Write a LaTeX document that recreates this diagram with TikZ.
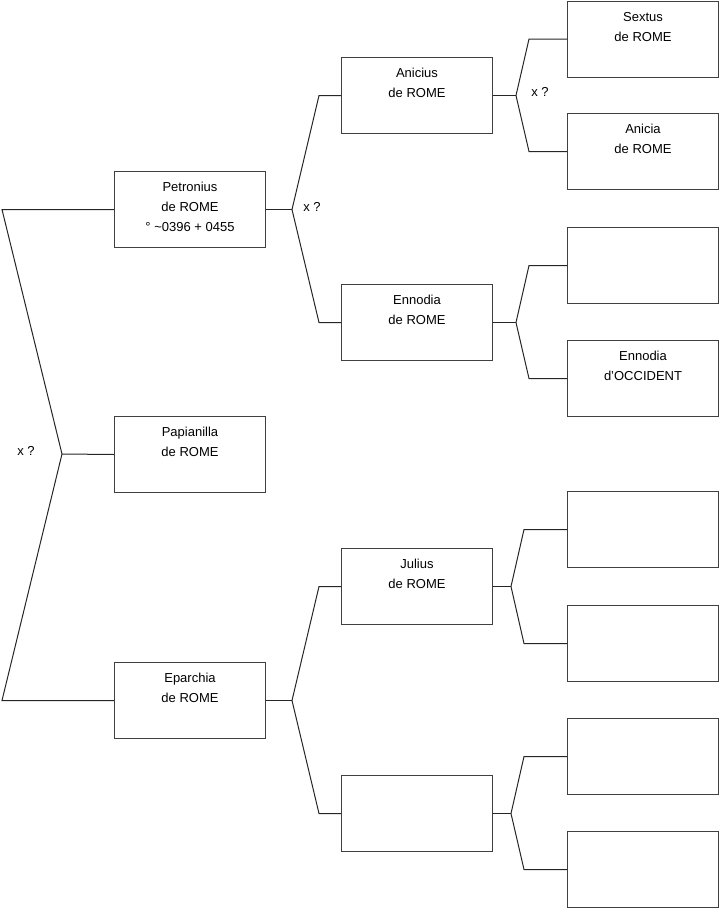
\documentclass[tikz,border=0pt]{standalone}
\usepackage{fontspec}
\setmainfont{Liberation Sans}
\usetikzlibrary{positioning}
\newcommand{\who}[1]{\parbox[t][76pt][t]{151pt}{\centering\vspace*{11pt}#1}}
\tikzset{
  person/.style={draw=black!75,line width=1pt,inner sep=0pt,anchor=north west,
                 minimum width=151pt,minimum height=76pt},
  link/.style={draw=black!85,line width=1pt}
}
\begin{document}
\begin{tikzpicture}[x=1pt,y=-1pt,every node/.style={font=\fontsize{13}{20}\selectfont}]
  \useasboundingbox (0,0) rectangle (719,908);
  %% Generation 1
  \node[person] (pet) at (114,171) {\who{Petronius\\de ROME\\° \textasciitilde0396 + 0455}};
  \node[person] (pap) at (114,416) {\who{Papianilla\\de ROME}};
  \node[person] (epa) at (114,662) {\who{Eparchia\\de ROME}};
  %% Generation 2
  \node[person] (ani) at (341,57)  {\who{Anicius\\de ROME}};
  \node[person] (enn) at (341,284) {\who{Ennodia\\de ROME}};
  \node[person] (jul) at (341,548) {\who{Julius\\de ROME}};
  \node[person] (gtw) at (341,775) {};
  %% Generation 3
  \foreach \n/\y/\t in {
      sex/0.5/{Sextus\\de ROME},
      anc/113/{Anicia\\de ROME},
      ga3/227/{},
      occ/340/{Ennodia\\d'OCCIDENT},
      ga5/491/{},
      ga6/605/{},
      ga7/718/{},
      ga8/831/{}}{
    \node[person] (\n) at (567,\y) {\who{\t}};
  }
  %% Forks
  \coordinate (j0) at (62,454);
  \draw[link] (pet.west) -- ([xshift=-112pt]pet.west) -- (j0)
    -- ([xshift=-112pt]epa.west) -- (epa.west);
  \draw[link] (j0) -- (pap.west);
  \node (x0) at (26,451) {x ?};
  \coordinate[right=26pt of pet.east] (j1);
  \draw[link] (pet.east) -- (j1);
  \draw[link] (ani.west) -- ([xshift=-22pt]ani.west) -- (j1)
    -- ([xshift=-22pt]enn.west) -- (enn.west);
  \node (x1) at (312,207) {x ?};
  \coordinate[right=26pt of epa.east] (j2);
  \draw[link] (epa.east) -- (j2);
  \draw[link] (jul.west) -- ([xshift=-22pt]jul.west) -- (j2)
    -- ([xshift=-22pt]gtw.west) -- (gtw.west);
  \foreach \p/\a/\b/\d/\s in {ani/sex/anc/23/38, enn/ga3/occ/23/38,
                              jul/ga5/ga6/18/43, gtw/ga7/ga8/18/43}{
    \coordinate[right=\d pt of \p.east] (j\p);
    \draw[link] (\p.east) -- (j\p);
    \draw[link] (\a.west) -- ([xshift=-\s pt]\a.west) -- (j\p)
      -- ([xshift=-\s pt]\b.west) -- (\b.west);
  }
  \node (x2) at (540,92) {x ?};
\end{tikzpicture}
\end{document}
